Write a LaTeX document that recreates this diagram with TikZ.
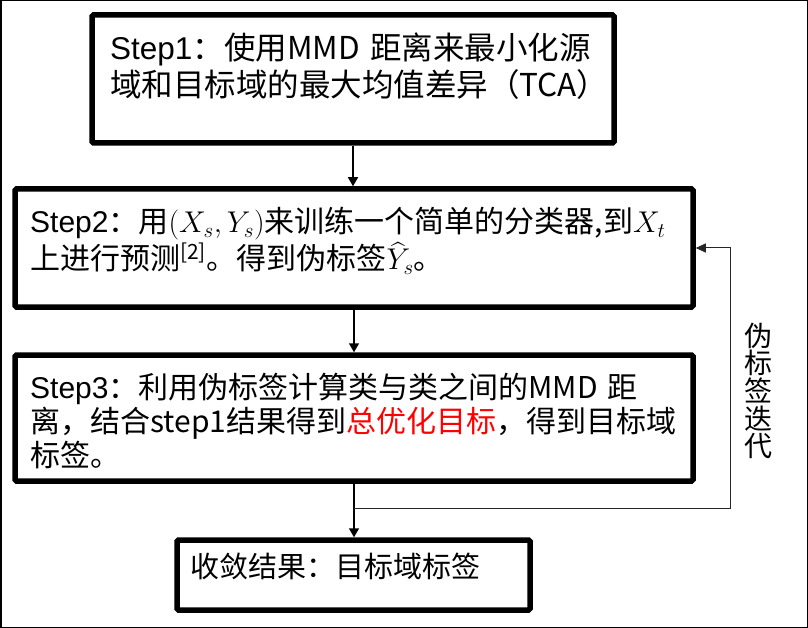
\documentclass[tikz,border=0pt]{standalone}
\usepackage{fix-cm}
\usepackage{amsmath}
\usepackage{fontspec}
\setmainfont{Noto Sans CJK SC}
\newfontfamily\arialfont{Liberation Sans}
\usetikzlibrary{arrows.meta}

\begin{document}
\begin{tikzpicture}[x=1pt,y=-1pt,
	stepbox/.style={draw,line width=5.5pt,inner sep=0pt,rounded corners=1.5pt},
	steptxt/.style={anchor=base west,inner sep=0pt,align=left},
	flowarrow/.style={line width=1.5pt,-{Triangle[width=10pt,length=9pt]}},
	backarrow/.style={line width=1pt,black!85,-{Triangle[width=9pt,length=10pt]}}]
	\useasboundingbox (0,0) rectangle (808,628);
	\draw[line width=1.5pt] (0.75,0.75) rectangle (807.25,627.25);
	% boxes
	\node[stepbox,minimum width=522pt,minimum height=128pt] (s1) at (353,79) {};
	\node[stepbox,minimum width=678pt,minimum height=118pt] (s2) at (354,248) {};
	\node[stepbox,minimum width=678pt,minimum height=126pt] (s3) at (354,418) {};
	\node[stepbox,minimum width=353pt,minimum height=70pt] (s4) at (353.5,575) {};
	% texts
	\node[steptxt,text width=500pt,font=\fontsize{31.5}{37}\selectfont] (t1) at (110,60)
		{{\arialfont Step1}：使用MMD 距离来最小化源\\域和目标域的最大均值差异（TCA）};
	\node[steptxt,text width=660pt,font=\fontsize{30}{37}\selectfont] (t2) at (30,233)
		{{\arialfont Step2}：用$(X_s,Y_s)$来训练一个简单的分类器,到$X_t$\\上进行预测\textsuperscript{[2]}。得到伪标签$\widehat{Y}_s$。};
	\node[steptxt,text width=660pt,font=\fontsize{30}{34}\selectfont] (t3) at (30,398)
		{{\arialfont Step3}：利用伪标签计算类与类之间的MMD 距\\离，结合step1结果得到{\color{red}总优化目标}，得到目标域\\标签。};
	\node[steptxt,text width=340pt,font=\fontsize{29}{34}\selectfont] (t4) at (190,577)
		{收敛结果：目标域标签};
	\node[font=\fontsize{28}{27.6}\selectfont,align=center,text width=30pt,inner sep=0pt] (lbl) at (758,391)
		{伪\\标\\签\\迭\\代};
	% arrows
	\coordinate (fb) at (730,508);
	\draw[flowarrow] (s1.south) -- (s1.south |- s2.north);
	\draw[flowarrow] (s2.south) -- (s2.south |- s3.north);
	\draw[flowarrow] (s3.south) -- (s3.south |- s4.north);
	\draw[backarrow] (s3.south |- fb) -- (fb) |- (s2.east);
\end{tikzpicture}
\end{document}
